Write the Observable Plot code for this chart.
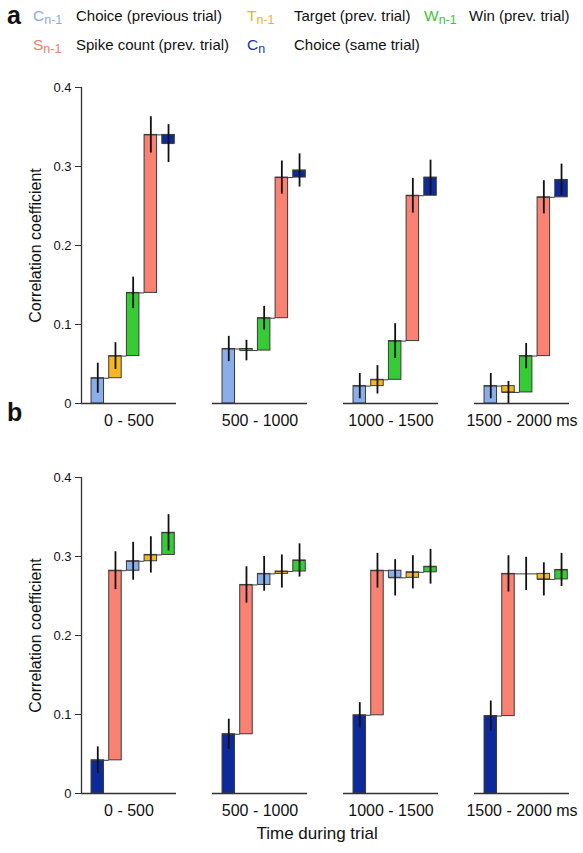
<!DOCTYPE html>
<html>
<head>
<meta charset="utf-8">
<script src="https://cdn.jsdelivr.net/npm/d3@7"></script>
<script src="https://cdn.jsdelivr.net/npm/@observablehq/plot@0.6"></script>
<style>
body{margin:0;background:#fff;font-family:'Liberation Sans',Arial,Helvetica,sans-serif;color:#111}
#root{position:relative;width:583px;height:853px;overflow:hidden;background:#fff}
.abs{position:absolute;white-space:nowrap}
.panel-label{font-weight:bold;font-size:25px;line-height:28px}
.leg{font-size:15px;line-height:18px}
.sym{font-size:15.5px;line-height:18px}
.sym sub{font-size:12.5px;vertical-align:-3px;line-height:0}
.xtitle{font-size:17px;line-height:20px}
svg{position:absolute;left:0}
</style>
</head>
<body>
<div id="root"></div>
<script>
// ---------- data ----------
const groups = ["0 - 500", "500 - 1000", "1000 - 1500", "1500 - 2000 ms"];
const keys = ["Cn-1", "Tn-1", "Wn-1", "Sn-1", "Cn"];
const keyColors = ["#8aaee9", "#f5b823", "#35cc35", "#f98272", "#0c2a9c"];
const legendTextColors = ["#8ea9e2", "#f0b12e", "#3cc43c", "#f07a6c", "#1a35a6"];
const legendSymbols = ["C", "T", "W", "S", "C"];
const legendSubs = ["n-1", "n-1", "n-1", "n-1", "n"];
const legendTexts = ["Choice (previous trial)", "Target (prev. trial)", "Win (prev. trial)", "Spike count (prev. trial)", "Choice (same trial)"];

// panel a: order of bars and cumulative end values (waterfall), error half-widths
const orderA = ["Cn-1", "Tn-1", "Wn-1", "Sn-1", "Cn"];
const endsA = [
  [0.032, 0.060, 0.140, 0.340, 0.329],
  [0.069, 0.067, 0.108, 0.286, 0.295],
  [0.022, 0.030, 0.079, 0.263, 0.286],
  [0.022, 0.014, 0.060, 0.261, 0.283]
];
const errsA = [
  [0.019, 0.017, 0.020, 0.023, 0.024],
  [0.016, 0.013, 0.015, 0.021, 0.021],
  [0.016, 0.018, 0.022, 0.022, 0.022],
  [0.016, 0.014, 0.016, 0.021, 0.020]
];

// panel b
const orderB = ["Cn", "Sn-1", "Cn-1", "Tn-1", "Wn-1"];
const endsB = [
  [0.042, 0.282, 0.294, 0.302, 0.330],
  [0.075, 0.264, 0.278, 0.281, 0.295],
  [0.099, 0.282, 0.273, 0.280, 0.287],
  [0.098, 0.278, 0.278, 0.271, 0.283]
];
const errsB = [
  [0.017, 0.024, 0.024, 0.023, 0.023],
  [0.019, 0.023, 0.022, 0.021, 0.021],
  [0.016, 0.022, 0.023, 0.021, 0.022],
  [0.019, 0.023, 0.021, 0.021, 0.021]
];

const yTicks = [0, 0.1, 0.2, 0.3, 0.4];
const yTickLabels = ["0", "0.1", "0.2", "0.3", "0.4"];
const yLabel = "Correlation coefficient";
const xTitle = "Time during trial";

// ---------- layout ----------
const FONT = "'Liberation Sans', Arial, Helvetica, sans-serif";
const xDomain = [-0.92, 4.45];
const halfW = 0.353;
const root = document.getElementById("root");

function div(cls, left, top, html) {
  const d = document.createElement("div");
  d.className = "abs " + cls;
  d.style.left = left + "px";
  d.style.top = top + "px";
  d.innerHTML = html;
  root.appendChild(d);
  return d;
}

function buildRows(order, ends, errs) {
  const rows = [];
  groups.forEach((g, gi) => {
    order.forEach((k, i) => {
      rows.push({
        group: g, i, key: k,
        start: i === 0 ? 0 : ends[gi][i - 1],
        end: ends[gi][i],
        err: errs[gi][i],
        last: i === order.length - 1
      });
    });
  });
  return rows;
}

function panel(order, ends, errs, top) {
  const rows = buildRows(order, ends, errs);
  const chart = Plot.plot({
    width: 583,
    height: 353,
    marginLeft: 80,
    marginRight: 13,
    marginTop: 7,
    marginBottom: 30,
    style: {fontFamily: FONT, background: "transparent", color: "#111", overflow: "visible"},
    fx: {domain: groups, paddingInner: 0.2785, paddingOuter: 0, label: null},
    x: {domain: xDomain, axis: null},
    y: {domain: [0, 0.4], axis: null},
    color: {domain: keys, range: keyColors},
    marks: [
      Plot.rect(rows, {
        fx: "group",
        x1: d => d.i - halfW, x2: d => d.i + halfW,
        y1: "start", y2: "end",
        fill: "key", stroke: "#3a3a3a", strokeWidth: 1
      }),
      Plot.ruleY(rows, {
        fx: "group",
        y: "end",
        x1: d => d.i - halfW,
        x2: d => d.last ? d.i + halfW : d.i + 1 - halfW,
        stroke: "#3a3a3a", strokeWidth: 1
      }),
      Plot.ruleX(rows, {
        fx: "group",
        x: "i",
        y1: d => d.end - d.err, y2: d => d.end + d.err,
        stroke: "#111", strokeWidth: 1.8
      }),
      Plot.ruleY(groups, {fx: d => d, y: () => 0, stroke: "#333", strokeWidth: 1.3}),
      Plot.ruleX([groups[0]], {fx: d => d, x: () => xDomain[0], y1: () => 0, y2: () => 0.4, stroke: "#333", strokeWidth: 1.3}),
      Plot.axisY({
        ticks: yTicks,
        tickFormat: (d, i) => yTickLabels[yTicks.indexOf(d)],
        tickSize: 6, tickPadding: 4, fontSize: 13, stroke: "#333",
        label: null
      }),
      Plot.axisY({
        ticks: [],
        label: yLabel, labelAnchor: "center", labelArrow: "none", labelOffset: 52,
        fontSize: 16, tickSize: 0
      }),
      Plot.axisFx({anchor: "bottom", tickSize: 0, tickPadding: 11, fontSize: 16, label: null})
    ]
  });
  chart.style.top = top + "px";
  root.appendChild(chart);
}

// panel labels
div("panel-label", 7, 1, "a");
div("panel-label", 7, 398, "b");

// legend
const legendPos = [
  {sx: 33, tx: 76, y: 7},
  {sx: 247, tx: 294, y: 7},
  {sx: 424, tx: 469, y: 7},
  {sx: 33, tx: 76, y: 36},
  {sx: 247, tx: 294, y: 36}
];
legendTexts.forEach((t, k) => {
  const p = legendPos[k];
  const s = div("sym", p.sx, p.y, legendSymbols[k] + "<sub>" + legendSubs[k] + "</sub>");
  s.style.color = legendTextColors[k];
  div("leg", p.tx, p.y, t);
});

panel(orderA, endsA, errsA, 80);
panel(orderB, endsB, errsB, 470);

const xt = div("xtitle", 0, 824, xTitle);
xt.style.left = (317 - xt.offsetWidth / 2) + "px";
</script>
</body>
</html>
